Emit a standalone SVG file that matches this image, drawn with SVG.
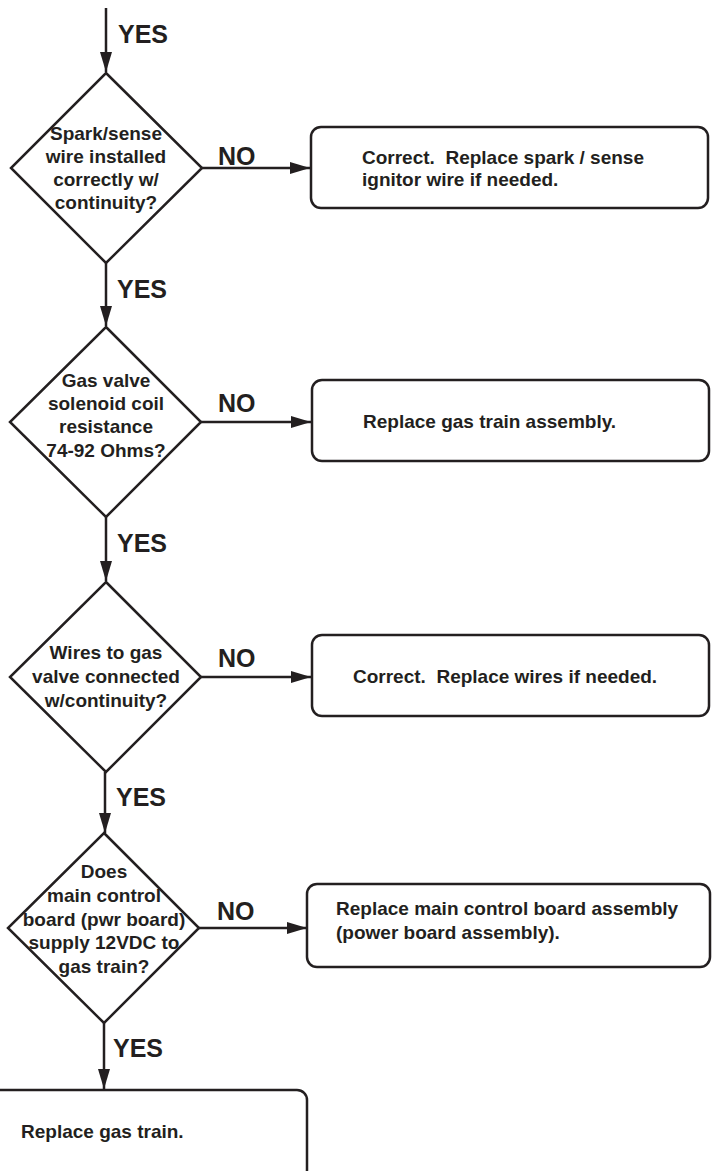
<svg xmlns="http://www.w3.org/2000/svg" width="712" height="1171" viewBox="0 0 712 1171" xml:space="preserve">
<style>
.shape{fill:#fff;stroke:#231f20;stroke-width:2.5}
.conn{stroke:#231f20;stroke-width:2.5;fill:none}
.q{font-family:"Liberation Sans",Arial,sans-serif;font-weight:bold;font-size:19px;fill:#231f20;text-anchor:middle}
.t{font-family:"Liberation Sans",Arial,sans-serif;font-weight:bold;font-size:19px;fill:#231f20;white-space:pre}
.lbl{font-family:"Liberation Sans",Arial,sans-serif;font-weight:bold;font-size:25px;fill:#231f20}
</style>
<defs>
<marker id="ah" markerUnits="userSpaceOnUse" markerWidth="22" markerHeight="14" refX="20" refY="7" orient="auto">
<path d="M0,1 L20,7 L0,13 Z" fill="#231f20"/>
</marker>
</defs>
<g id="connectors">
<line class="conn" x1="106" y1="8" x2="106" y2="72" marker-end="url(#ah)"/>
<line class="conn" x1="202" y1="168" x2="310" y2="168" marker-end="url(#ah)"/>
<line class="conn" x1="106" y1="263" x2="106" y2="326" marker-end="url(#ah)"/>
<line class="conn" x1="201" y1="422" x2="311" y2="422" marker-end="url(#ah)"/>
<line class="conn" x1="106" y1="517" x2="106" y2="581" marker-end="url(#ah)"/>
<line class="conn" x1="201" y1="677" x2="311" y2="677" marker-end="url(#ah)"/>
<line class="conn" x1="105" y1="772" x2="105" y2="833" marker-end="url(#ah)"/>
<line class="conn" x1="199" y1="928" x2="307" y2="928" marker-end="url(#ah)"/>
<line class="conn" x1="104" y1="1023" x2="104" y2="1089" marker-end="url(#ah)"/>
<text class="lbl" x="118" y="43">YES</text>
<text class="lbl" x="218" y="165">NO</text>
<text class="lbl" x="117" y="298">YES</text>
<text class="lbl" x="218" y="412">NO</text>
<text class="lbl" x="117" y="552">YES</text>
<text class="lbl" x="218" y="667">NO</text>
<text class="lbl" x="116" y="806">YES</text>
<text class="lbl" x="217" y="920">NO</text>
<text class="lbl" x="113" y="1057">YES</text>
</g>
<g id="d1">
<polygon class="shape" points="106,73 202,168 106,263 11,168"/>
<text class="q" x="106" y="140">Spark/sense</text>
<text class="q" x="106" y="163">wire installed</text>
<text class="q" x="106" y="186">correctly w/</text>
<text class="q" x="106" y="209">continuity?</text>
</g>
<g id="b1">
<rect class="shape" x="311" y="127" width="397" height="81" rx="10"/>
<text class="t" x="362" y="164">Correct.  Replace spark / sense</text>
<text class="t" x="362" y="186">ignitor wire if needed.</text>
</g>
<g id="d2">
<polygon class="shape" points="106,327 201,422 106,517 10,422"/>
<text class="q" x="106" y="387">Gas valve</text>
<text class="q" x="106" y="410">solenoid coil</text>
<text class="q" x="106" y="433">resistance</text>
<text class="q" x="106" y="457">74-92 Ohms?</text>
</g>
<g id="b2">
<rect class="shape" x="312" y="380" width="397" height="81" rx="10"/>
<text class="t" x="363" y="428">Replace gas train assembly.</text>
</g>
<g id="d3">
<polygon class="shape" points="106,582 201,677 106,772 10,677"/>
<text class="q" x="106" y="659">Wires to gas</text>
<text class="q" x="106" y="683">valve connected</text>
<text class="q" x="106" y="707">w/continuity?</text>
</g>
<g id="b3">
<rect class="shape" x="312" y="635" width="397" height="81" rx="10"/>
<text class="t" x="353" y="683">Correct.  Replace wires if needed.</text>
</g>
<g id="d4">
<polygon class="shape" points="104,833 199,928 104,1023 8,928"/>
<text class="q" x="104" y="878">Does</text>
<text class="q" x="104" y="902">main control</text>
<text class="q" x="104" y="926">board (pwr board)</text>
<text class="q" x="104" y="949">supply 12VDC to</text>
<text class="q" x="104" y="973">gas train?</text>
</g>
<g id="b4">
<rect class="shape" x="307" y="884" width="403" height="83" rx="10"/>
<text class="t" x="336" y="915">Replace main control board assembly</text>
<text class="t" x="336" y="939">(power board assembly).</text>
</g>
<g id="b5">
<rect class="shape" x="-12" y="1090" width="319" height="90" rx="10"/>
<text class="t" x="21" y="1138">Replace gas train.</text>
</g>
</svg>
